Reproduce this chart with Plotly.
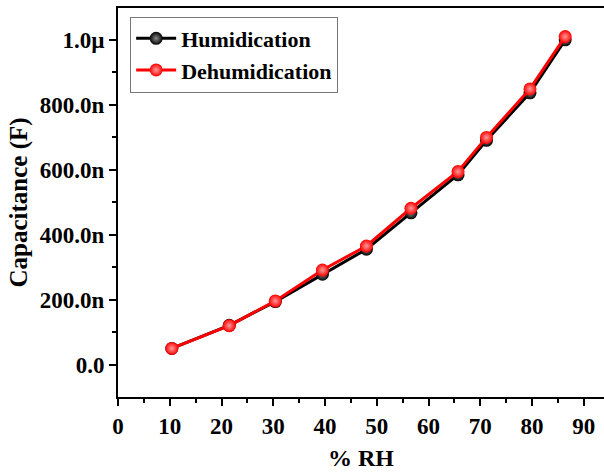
import numpy as np
import plotly.graph_objects as go

# Relative humidity (%) at each measurement step
rh = [10.4, 21.5, 30.4, 39.5, 48.0, 56.6, 65.7, 71.2, 79.6, 86.4]

# Capacitance in nanofarads
cap_humid_nf = [51, 122, 195, 279, 356, 468, 585, 691, 837, 1000]
cap_dehumid_nf = [51, 121, 197, 292, 366, 482, 595, 700, 849, 1010]

y_tick_vals_nf = [0, 200, 400, 600, 800, 1000]
y_tick_text = ["0.0", "200.0n", "400.0n", "600.0n", "800.0n", "1.0\u00b5"]

FONT = "Liberation Serif"

fig = go.Figure()

fig.add_trace(go.Scatter(
    x=rh, y=np.array(cap_humid_nf) * 1e-9,
    mode="lines+markers", name="<b>Humidication</b>",
    line=dict(color="black", width=3),
    marker=dict(size=13, color="black",
                gradient=dict(type="radial", color="#8a8a8a"),
                line=dict(width=0)),
))
fig.add_trace(go.Scatter(
    x=rh, y=np.array(cap_dehumid_nf) * 1e-9,
    mode="lines+markers", name="<b>Dehumidication</b>",
    line=dict(color="#ff0000", width=3),
    marker=dict(size=13, color="#ff0000",
                gradient=dict(type="radial", color="#ff9a9a"),
                line=dict(width=0)),
))

axis_font = dict(family=FONT, size=23, color="black")

fig.update_layout(
    width=604, height=474,
    margin=dict(l=118, r=0, t=8, b=77),
    paper_bgcolor="white", plot_bgcolor="white",
    font=dict(family=FONT, color="black"),
    showlegend=True,
    legend=dict(
        x=0.025, y=0.978, xanchor="left", yanchor="top",
        bgcolor="white", bordercolor="#777777", borderwidth=1,
        font=dict(family=FONT, size=22, color="black"),
        tracegroupgap=0, itemwidth=40,
    ),
    xaxis=dict(
        range=[0, 93.9],
        tickvals=list(range(0, 100, 10)),
        ticktext=[f"<b>{v}</b>" for v in range(0, 100, 10)],
        tickfont=axis_font,
        ticks="outside", ticklen=7, tickwidth=2, tickcolor="black",
        minor=dict(dtick=5, tick0=0, ticks="outside", ticklen=4,
                   tickwidth=1.5, tickcolor="black"),
        showline=True, linecolor="black", linewidth=2, mirror=True,
        showgrid=False, zeroline=False,
        title=dict(text="<b>% RH</b>", font=dict(family=FONT, size=24),
                   standoff=12),
    ),
    yaxis=dict(
        range=[-98.5e-9, 1098e-9],
        tickvals=[v * 1e-9 for v in y_tick_vals_nf],
        ticktext=[f"<b>{t}</b>" for t in y_tick_text],
        tickfont=axis_font,
        ticks="outside", ticklen=7, tickwidth=2, tickcolor="black",
        minor=dict(tickvals=[v * 1e-9 for v in (-100, 100, 300, 500, 700, 900)],
                   ticks="outside", ticklen=4, tickwidth=1.5,
                   tickcolor="black"),
        showline=True, linecolor="black", linewidth=2,
        showgrid=False, zeroline=False,
    ),
    annotations=[dict(
        text="<b>Capacitance (F)</b>", textangle=-90,
        xref="paper", yref="paper", x=-100 / 486, y=0.5,
        xanchor="center", yanchor="middle", showarrow=False,
        font=dict(family=FONT, size=25, color="black"),
    )],
)

fig.write_html("out.html")
